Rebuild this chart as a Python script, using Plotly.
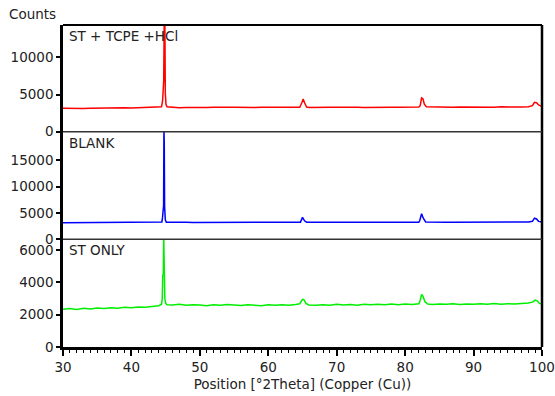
import plotly.graph_objects as go

# ---- data ----
red_x = [30, 31, 32, 33, 34, 35, 36, 37, 38, 39, 40, 41, 42, 43, 44,
         44.4, 44.55, 44.62, 44.72, 44.8, 44.88, 44.95, 45.05, 45.2,
         46, 47, 48, 49, 50, 51, 52, 53, 54, 55, 56, 57, 58, 59, 60, 61, 62, 63, 64,
         64.6, 64.9, 65.1, 65.3, 65.6,
         66, 67, 68, 69, 70, 71, 72, 73, 74, 75, 76, 77, 78, 79, 80, 81, 82,
         82.2, 82.4, 82.6, 82.8, 83.1,
         84, 85, 86, 87, 88, 89, 90, 91, 92, 93, 94, 95, 96, 97, 98,
         98.6, 98.9, 99.2, 99.5, 100]
red_y = [3150, 3120, 3180, 3140, 3170, 3190, 3150, 3200, 3170, 3210, 3190, 3230, 3200, 3240, 3280,
         3350, 4100, 6800, 6900, 16000, 16000, 5200, 3700, 3350,
         3280, 3240, 3270, 3230, 3280, 3250, 3290, 3240, 3280, 3300, 3260, 3290, 3250, 3300, 3270, 3310, 3280, 3300, 3260,
         3290, 3900, 4420, 3900, 3320,
         3270, 3310, 3260, 3300, 3280, 3320, 3290, 3310, 3270, 3300, 3330, 3290, 3310, 3280, 3320, 3300, 3330,
         3500, 4550, 4450, 3700, 3350,
         3320, 3300, 3340, 3300, 3330, 3310, 3350, 3320, 3340, 3310, 3350, 3320, 3360, 3330, 3350,
         3500, 3950, 3900, 3600, 3400]

blue_x = [30, 31, 32, 33, 34, 35, 36, 37, 38, 39, 40, 41, 42, 43, 44,
          44.45, 44.55, 44.62, 44.7, 44.75, 44.8, 44.85, 44.95, 45.1,
          46, 47, 48, 49, 50, 51, 52, 53, 54, 55, 56, 57, 58, 59, 60, 61, 62, 63, 64,
          64.7, 65.0, 65.3, 65.6,
          66, 67, 68, 69, 70, 71, 72, 73, 74, 75, 76, 77, 78, 79, 80, 81, 82,
          82.15, 82.4, 82.65, 83.0,
          84, 85, 86, 87, 88, 89, 90, 91, 92, 93, 94, 95, 96, 97, 98,
          98.6, 98.9, 99.2, 99.5, 100]
blue_y = [3150, 3160, 3140, 3150, 3170, 3150, 3160, 3150, 3170, 3160, 3180, 3160, 3170, 3190, 3220,
          3300, 4200, 6200, 6400, 21000, 18300, 6200, 3700, 3250,
          3200, 3190, 3210, 3200, 3200, 3210, 3190, 3210, 3200, 3220, 3200, 3210, 3220, 3200, 3210, 3220, 3210, 3230, 3220,
          3250, 4150, 3500, 3240,
          3220, 3230, 3220, 3230, 3220, 3240, 3230, 3220, 3230, 3240, 3230, 3240, 3230, 3240, 3230, 3240, 3250,
          3600, 4850, 4000, 3300,
          3240, 3250, 3240, 3250, 3240, 3250, 3240, 3250, 3260, 3250, 3260, 3250, 3260, 3250, 3270,
          3400, 4000, 3850, 3400, 3260]

green_x = [30, 31, 32, 33, 34, 35, 36, 37, 38, 39, 40, 41, 42, 43, 44,
           44.4, 44.5, 44.58, 44.66, 44.72, 44.8, 44.88, 45.0, 45.2,
           46, 47, 48, 49, 50, 51, 52, 53, 54, 55, 56, 57, 58, 59, 60, 61, 62, 63, 64,
           64.6, 65.0, 65.2, 65.5, 65.9,
           67, 68, 69, 70, 71, 72, 73, 74, 75, 76, 77, 78, 79, 80, 81, 82,
           82.2, 82.4, 82.6, 82.9, 83.3,
           84, 85, 86, 87, 88, 89, 90, 91, 92, 93, 94, 95, 96, 97, 98,
           98.6, 99.0, 99.3, 99.6, 100]
green_y = [2340, 2380, 2320, 2400, 2360, 2410, 2380, 2430, 2400, 2460, 2430, 2480, 2460, 2500, 2560,
           2650, 2950, 4450, 4500, 6900, 4000, 3000, 2700, 2620,
           2600, 2640, 2580, 2620, 2600, 2560, 2610, 2580, 2630, 2600, 2570, 2620, 2590, 2560, 2610, 2580, 2620, 2590, 2630,
           2680, 2950, 2930, 2700, 2600,
           2580, 2620, 2590, 2640, 2600, 2630, 2590, 2640, 2610, 2650, 2620, 2660, 2620, 2660, 2630, 2680,
           2900, 3250, 3150, 2800, 2660,
           2630, 2670, 2640, 2680, 2630, 2670, 2640, 2680, 2650, 2690, 2650, 2680, 2660, 2700, 2720,
           2780, 2900, 2860, 2720, 2650]

panel_labels = ["ST + TCPE +HCl", "BLANK", "ST ONLY"]
x_ticks = [30, 40, 50, 60, 70, 80, 90, 100]
top_ticks = [0, 5000, 10000]
mid_ticks = [0, 5000, 10000, 15000]
bot_ticks = [0, 2000, 4000, 6000]

# ---- figure ----
FONT = "DejaVu Sans"
TXT = "#222222"
b1, b2 = 0.3345, 0.6686

fig = go.Figure()
fig.add_trace(go.Scatter(x=red_x, y=red_y, mode="lines", xaxis="x3", yaxis="y3",
                         line=dict(color="#ff0000", width=1.5), showlegend=False))
fig.add_trace(go.Scatter(x=blue_x, y=blue_y, mode="lines", xaxis="x2", yaxis="y2",
                         line=dict(color="#0000ff", width=1.5), showlegend=False))
fig.add_trace(go.Scatter(x=green_x, y=green_y, mode="lines", xaxis="x", yaxis="y",
                         line=dict(color="#00ee00", width=1.5), showlegend=False))

yax_common = dict(showgrid=False, zeroline=False, showline=True, linecolor="black", linewidth=2.5,
                  ticks="outside", ticklen=4, tickcolor="black", tickwidth=1.5, automargin=False,
                  tickfont=dict(family=FONT, size=13.5, color=TXT))
hidden_x = dict(range=[30, 100], visible=False, showgrid=False, zeroline=False)

fig.update_layout(
    width=555, height=396,
    margin=dict(l=63, r=13, t=25, b=49, autoexpand=False),
    plot_bgcolor="white", paper_bgcolor="white",
    xaxis=dict(domain=[0, 1], anchor="y", range=[30, 100], tickvals=x_ticks,
               ticktext=[str(v) for v in x_ticks], automargin=False,
               showgrid=False, zeroline=False, showline=True, linecolor="black", linewidth=2.5,
               ticks="outside", ticklen=6, tickwidth=1.5, tickcolor="black",
               minor=dict(dtick=1, ticks="outside", ticklen=3, tickcolor="black", tickwidth=1),
               tickfont=dict(family=FONT, size=13.5, color=TXT),
               title=dict(text="Position [°2Theta] (Copper (Cu))", standoff=6,
                          font=dict(family=FONT, size=13.5, color=TXT))),
    xaxis2=dict(anchor="y2", **hidden_x),
    xaxis3=dict(anchor="y3", **hidden_x),
    yaxis=dict(domain=[0, b1], range=[0, 6670], tickvals=bot_ticks,
               ticktext=[str(v) for v in bot_ticks], anchor="x", **yax_common),
    yaxis2=dict(domain=[b1, b2], range=[0, 20400], tickvals=mid_ticks,
                ticktext=[str(v) for v in mid_ticks], anchor="x2", **yax_common),
    yaxis3=dict(domain=[b2, 1], range=[0, 14370], tickvals=top_ticks,
                ticktext=[str(v) for v in top_ticks], anchor="x3", **yax_common),
)

# frame: top and right border, panel separators
fig.add_shape(type="line", xref="paper", yref="paper", x0=0, x1=1, y0=1, y1=1,
              line=dict(color="black", width=2))
fig.add_shape(type="line", xref="paper", yref="paper", x0=1, x1=1, y0=0, y1=1,
              line=dict(color="black", width=2.5))
for yb in (b1, b2):
    fig.add_shape(type="line", xref="paper", yref="paper", x0=0, x1=1, y0=yb, y1=yb,
                  line=dict(color="#333333", width=1.5))

# panel labels
for lab, yref in zip(panel_labels, ["y3 domain", "y2 domain", "y domain"]):
    fig.add_annotation(text=lab, xref="paper", yref=yref, x=0.008, y=0.99,
                       xanchor="left", yanchor="top", showarrow=False,
                       font=dict(family=FONT, size=13.5, color=TXT))

fig.add_annotation(text="Counts", xref="paper", yref="paper", x=-0.117, y=1.034,
                   xanchor="left", yanchor="middle", showarrow=False,
                   font=dict(family=FONT, size=13.5, color=TXT))

fig.write_html("out.html", config={"displayModeBar": False},
               post_script="document.body.style.margin='0';document.body.style.overflow='hidden';")
